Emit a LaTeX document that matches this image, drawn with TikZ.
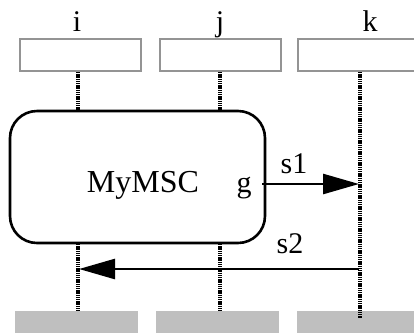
\documentclass[tikz,border=0pt]{standalone}
\usepackage{fontspec}
\setmainfont{Liberation Serif}
\usetikzlibrary{arrows.meta}
\begin{document}
\begin{tikzpicture}[x=1pt,y=-1pt,
  headbox/.style={draw=black!42, line width=2pt, minimum width=121pt, minimum height=32pt, inner sep=0pt, outer sep=0pt},
  footbox/.style={fill=black!25, draw=none, minimum width=123pt, minimum height=22pt, inner sep=0pt, outer sep=0pt},
  lbl/.style={anchor=base, inner sep=0pt, font=\fontsize{30}{31}\selectfont},
  biglbl/.style={lbl, font=\fontsize{32}{33}\selectfont},
  lifeline/.style={line width=3.2pt, dash pattern=on 1.4pt off 0.8pt},
  msg/.style={line width=2.6pt, -{Triangle[length=36pt, width=20pt]}},
  mscbox/.style={draw, line width=2.6pt, rounded corners=27pt, minimum width=255pt, minimum height=132pt, inner sep=0pt, outer sep=0pt}]
\useasboundingbox (0,0) rectangle (414,333);
% instance heads
\node[headbox] (hi) at (80.5,55) {};
\node[headbox] (hj) at (220.5,55) {};
\node[headbox, minimum width=122pt] (hk) at (359,55) {};
\node[lbl] (ti) at (77,31) {i};
\node[lbl] (tj) at (220,31) {j};
\node[lbl] (tk) at (370,31) {k};
% footers
\node[footbox] (fi) at (76.5,322) {};
\node[footbox] (fj) at (217.5,322) {};
\node[footbox, minimum width=122pt] (fk) at (358,322) {};
% MSC reference
\node[mscbox] (msc) at (137.5,177) {};
\node[biglbl] (name) at (143,192) {MyMSC};
\node[lbl] (g) at (244,192) {g};
% lifeline coordinates
\coordinate (i1) at (78,72);
\coordinate (i2) at (78,111);
\coordinate (i3) at (78,244);
\coordinate (i4) at (78,311);
\coordinate (j1) at (220,72);
\coordinate (j2) at (220,111);
\coordinate (j3) at (220,244);
\coordinate (j4) at (220,311);
\coordinate (k1) at (360,72);
\coordinate (k2) at (360,318);
\draw[lifeline] (i1) -- (i2);
\draw[lifeline] (i3) -- (i4);
\draw[lifeline] (j1) -- (j2);
\draw[lifeline] (j3) -- (j4);
\draw[lifeline] (k1) -- (k2);
% messages
\coordinate (s1a) at (262,184);
\coordinate (s1b) at (359,184);
\draw[msg] (s1a) -- (s1b);
\node[lbl] (ls1) at (294,173) {s1};
\coordinate (s2a) at (359,269);
\coordinate (s2b) at (79,269);
\draw[msg] (s2a) -- (s2b);
\node[lbl] (ls2) at (290,253) {s2};
\end{tikzpicture}
\end{document}
